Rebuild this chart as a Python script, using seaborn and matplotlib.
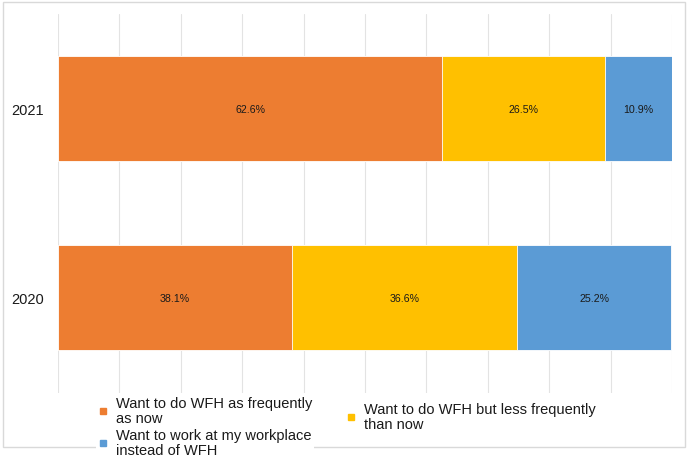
import matplotlib
matplotlib.use("Agg")
import matplotlib.pyplot as plt
from matplotlib.patches import Rectangle
from matplotlib.lines import Line2D
import seaborn as sns
import pandas as pd
import numpy as np

years = ["2021", "2020"]
same_freq = [62.6, 38.1]
less_freq = [26.5, 36.6]
workplace = [10.9, 25.2]
series_labels = [
    "Want to do WFH as frequently\nas now",
    "Want to do WFH but less frequently\nthan now",
    "Want to work at my workplace\ninstead of WFH",
]
colors = ["#ED7D31", "#FFC000", "#5B9BD5"]

sns.set_theme(style="white")
plt.rcParams["font.family"] = ["Liberation Sans", "DejaVu Sans"]

df = pd.DataFrame({"year": years, "same": same_freq, "less": less_freq, "work": workplace})
parts = ["same", "less", "work"]
cum = df[parts].cumsum(axis=1)

fig = plt.figure(figsize=(6.88, 4.60), dpi=100)
# light outer frame around the chart area
fig.patches.append(Rectangle((3 / 688, 12 / 460), 682 / 688, 445 / 460, transform=fig.transFigure,
                             facecolor="none", edgecolor="#d9d9d9", linewidth=1, zorder=0))
ax = fig.add_axes([58 / 688, 1 - 393.5 / 460, 614 / 688, 378.5 / 460])
ax.set_facecolor("none")

# draw cumulative totals from the widest down so segments stack
for part, color in reversed(list(zip(parts, colors))):
    sns.barplot(x=cum[part], y=df["year"], orient="h", color=color, width=0.555,
                edgecolor="white", linewidth=0.6, saturation=1, ax=ax, zorder=2)

# segment labels at the centre of each piece
for i, row in df.iterrows():
    left = 0
    for part in parts:
        val = row[part]
        ax.text(left + val / 2, i, f"{val:.1f}%", ha="center", va="center",
                fontsize=7.7, color="#1a1a1a", zorder=3)
        left += val

ax.set_xlim(0, 100)
ax.set_ylim(1.5, -0.5)
ax.set_xticks(np.arange(0, 101, 10))
ax.set_xticklabels([])
ax.xaxis.grid(True, color="#e3e3e3", linewidth=0.8)
ax.set_axisbelow(True)
ax.set_xlabel("")
ax.set_ylabel("")
ax.tick_params(axis="y", length=0, labelsize=10.5, colors="#1a1a1a", pad=10)
ax.tick_params(axis="x", length=0)
for s in ax.spines.values():
    s.set_visible(False)

handles = [Line2D([], [], marker="s", linestyle="none", markersize=5,
                  markerfacecolor=c, markeredgecolor=c) for c in colors]
leg_kw = dict(fontsize=10.5, frameon=True, fancybox=False, edgecolor="none",
              facecolor="white", framealpha=1, handlelength=0.7, handletextpad=0.55,
              labelspacing=0.2, borderpad=0.1)
leg1 = fig.legend([handles[0], handles[2]], [series_labels[0], series_labels[2]],
                  loc="upper left", bbox_to_anchor=(89 / 688, 1 - 388 / 460), **leg_kw)
leg2 = fig.legend([handles[1]], [series_labels[1]],
                  loc="upper left", bbox_to_anchor=(337 / 688, 1 - 394 / 460), **leg_kw)
for leg in (leg1, leg2):
    leg.set_zorder(5)
    for t in leg.get_texts():
        t.set_linespacing(1.12)
        t.set_color("#1a1a1a")

fig.savefig("out.png", dpi=100)
